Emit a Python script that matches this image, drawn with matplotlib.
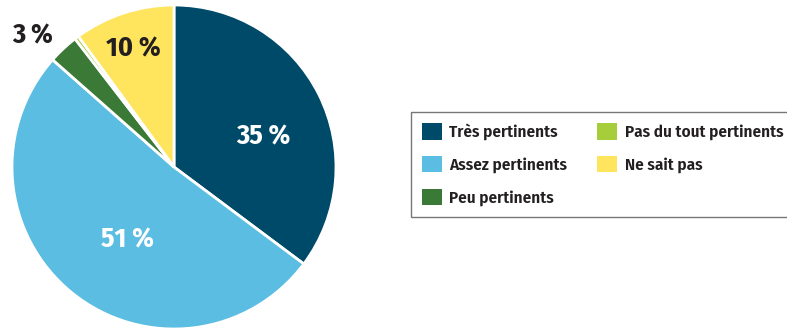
import matplotlib
matplotlib.use("Agg")
import matplotlib.pyplot as plt
from matplotlib.patches import Patch
import numpy as np

plt.rcParams['font.family'] = ['Fira Sans Condensed', 'DejaVu Sans']

categories = ["Très pertinents", "Assez pertinents", "Peu pertinents",
              "Pas du tout pertinents", "Ne sait pas"]
values = [35, 51, 3, 0.4, 10]
value_labels = ["35 %", "51 %", "3 %", "", "10 %"]
colors = ["#004a69", "#5bbde2", "#3a7936", "#a6cd3a", "#ffe45e"]

# where each percentage sits: (angle offset from wedge middle, radius), text colour
label_pos = [(-8, 0.58), (6.4, 0.53), (4, 1.19), (0, 0.0), (1, 0.77)]
label_col = ["white", "white", "#231f20", "white", "#231f20"]

fig = plt.figure(figsize=(7.87, 3.31), dpi=100)
ax = fig.add_axes([12 / 787, 2 / 331, 324 / 787, 324 / 331])

wedges, _ = ax.pie(values, colors=colors, startangle=90, counterclock=False,
                   radius=1.0, wedgeprops=dict(edgecolor="white", linewidth=2))
ax.set_xlim(-1, 1)
ax.set_ylim(-1, 1)
ax.set_aspect("equal")

for w, lab, (off, r), c in zip(wedges, value_labels, label_pos, label_col):
    if not lab:
        continue
    mid = np.deg2rad((w.theta1 + w.theta2) / 2 + off)
    ax.text(r * np.cos(mid), r * np.sin(mid), lab, ha="center", va="center",
            color=c, fontsize=20, fontweight="bold", clip_on=False)

# two-column legend, filled column by column
handles = [Patch(facecolor=c, edgecolor="none") for c in colors]
leg = fig.legend(handles, categories,
                 ncol=2, loc="upper left",
                 bbox_to_anchor=(411 / 787, 1 - 112 / 331),
                 frameon=True, fancybox=False,
                 handlelength=1.15, handleheight=1.1, handletextpad=0.45,
                 columnspacing=1.75, labelspacing=0.9, borderpad=0.65,
                 borderaxespad=0,
                 prop={'weight': 'semibold', 'size': 12.3})
leg.get_frame().set_edgecolor("#555555")
leg.get_frame().set_linewidth(1.0)
for t in leg.get_texts():
    t.set_color("#231f20")

fig.savefig("out.png", dpi=100)
